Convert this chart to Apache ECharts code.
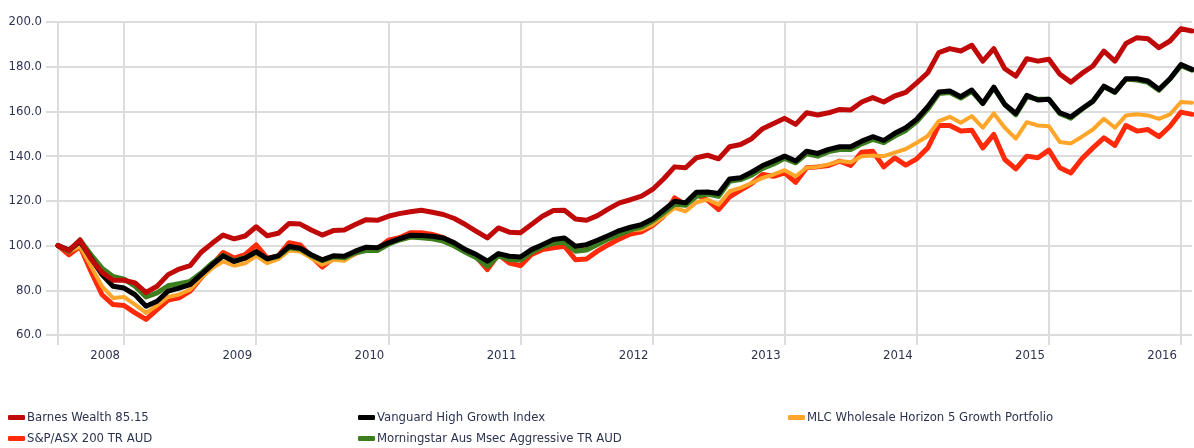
<!DOCTYPE html>
<html>
<head>
<meta charset="utf-8">
<script src="https://cdn.jsdelivr.net/npm/echarts@6/dist/echarts.min.js"></script>
<style>
  html, body { margin: 0; padding: 0; background: #fff; }
  #chart { width: 1194px; height: 448px; }
</style>
</head>
<body>
<div id="chart"></div>
<script>
// monthly points, Jul 2007 .. Feb 2016
var months = [
    '2007-07', '2007-08', '2007-09', '2007-10', '2007-11', '2007-12',
    '2008-01', '2008-02', '2008-03', '2008-04', '2008-05', '2008-06', '2008-07', '2008-08', '2008-09', '2008-10', '2008-11', '2008-12',
    '2009-01', '2009-02', '2009-03', '2009-04', '2009-05', '2009-06', '2009-07', '2009-08', '2009-09', '2009-10', '2009-11', '2009-12',
    '2010-01', '2010-02', '2010-03', '2010-04', '2010-05', '2010-06', '2010-07', '2010-08', '2010-09', '2010-10', '2010-11', '2010-12',
    '2011-01', '2011-02', '2011-03', '2011-04', '2011-05', '2011-06', '2011-07', '2011-08', '2011-09', '2011-10', '2011-11', '2011-12',
    '2012-01', '2012-02', '2012-03', '2012-04', '2012-05', '2012-06', '2012-07', '2012-08', '2012-09', '2012-10', '2012-11', '2012-12',
    '2013-01', '2013-02', '2013-03', '2013-04', '2013-05', '2013-06', '2013-07', '2013-08', '2013-09', '2013-10', '2013-11', '2013-12',
    '2014-01', '2014-02', '2014-03', '2014-04', '2014-05', '2014-06', '2014-07', '2014-08', '2014-09', '2014-10', '2014-11', '2014-12',
    '2015-01', '2015-02', '2015-03', '2015-04', '2015-05', '2015-06', '2015-07', '2015-08', '2015-09', '2015-10', '2015-11', '2015-12',
    '2016-01', '2016-02'
];

var barnes = [
    100, 97.8, 102.5, 94, 88, 84.5,
    84.5, 83.3, 79, 81.8, 87, 89.5, 91, 97, 101, 104.7, 103, 104.3,
    108.4, 104.4, 105.5, 109.9, 109.6, 107, 104.7, 106.7, 107, 109.4, 111.6, 111.3,
    113.1, 114.3, 115.1, 115.8, 114.9, 113.9, 112.1, 109.4, 106.4, 103.4, 107.9, 106,
    105.7, 109.4, 113.1, 115.7, 115.8, 111.9, 111.3, 113.4, 116.4, 119.1, 120.5, 122.1,
    125.1, 129.8, 135.2, 134.8, 139.3, 140.4, 138.8, 144.2, 145.2, 147.8, 152.3, 154.6,
    156.9, 154.2, 159.4, 158.4, 159.4, 160.9, 160.6, 164.2, 166.2, 164.2, 166.9, 168.5,
    172.8, 177.3, 186.3, 188.1, 187, 189.6, 182.5, 188.1, 179.1, 175.8, 183.6, 182.5,
    183.3, 176.6, 173.1, 177, 180.3, 187, 182.5, 190.4, 193, 192.5, 188.5, 191.5,
    197, 196
];

var vanguard = [
    100, 98, 101.8, 94.4, 87, 81.8,
    81, 78, 72.9, 75.1, 79.6, 81, 82.5, 87, 91.4, 95.4, 92.9, 94.4,
    97.3, 94.1, 95.4, 99.6, 98.8, 95.9, 93.6, 95.4, 95.2, 97.5, 99.3, 99,
    101.2, 103, 104.6, 104.5, 104.2, 103.4, 101.2, 98.2, 96, 93, 96.4, 95.2,
    94.9, 98.2, 100.4, 102.7, 103.4, 99.7, 100.4, 102.4, 104.5, 106.7, 108.2, 109.4,
    111.9, 115.8, 119.8, 119.1, 123.9, 124, 123.3, 129.8, 130.3, 132.8, 135.8, 137.8,
    140, 137.8, 142.2, 141.2, 143, 144.2, 144.2, 146.7, 148.7, 147, 150.2, 152.7,
    156.5, 162.1, 168.7, 169.1, 166.6, 169.6, 163.6, 170.9, 163.1, 159.1, 167.2, 165.1,
    165.4, 159.4, 157.6, 161.2, 164.6, 171.3, 168.7, 174.6, 174.6, 173.6, 169.9, 174.6,
    181, 178.8
];

var mlc = [
    100, 97.3, 99.6, 90.7, 81.8, 76.6,
    77, 73.6, 69.9, 73.2, 77, 78.1, 80.3, 85.5, 89.9, 92.9, 91, 92.1,
    95.4, 92.1, 93.9, 97.8, 97.3, 94.4, 91.4, 93.6, 93.2, 96.5, 98, 98,
    100.5, 102.5, 103.8, 103.8, 103.5, 102.7, 100.5, 97.5, 95, 91.5, 95.5, 94.5,
    94, 97.5, 99.5, 101.5, 102, 98.5, 99.2, 101, 103, 105.2, 106.8, 107.2,
    109.4, 113.1, 116.8, 115.3, 119.4, 120.6, 118.3, 124.3, 125.8, 128, 130.3, 131.8,
    133.7, 131, 134.8, 135.2, 136.3, 137.8, 137.3, 140, 140.3, 140, 141.6, 143.2,
    146, 149, 155.7, 157.6, 154.9, 157.9, 152.7, 159.1, 152.7, 147.8, 155.2, 153.7,
    153.4, 146.3, 145.7, 148.7, 151.9, 156.7, 152.7, 158.2, 158.7, 158.2, 156.7, 158.7,
    164.2, 163.9
];

var asx200 = [
    100, 95.9, 99.6, 88.4, 78, 73.6,
    73.2, 69.9, 67, 71.4, 75.6, 76.6, 79.6, 85.5, 91.4, 96.9, 94.4, 95.9,
    100.3, 94.4, 95.4, 101.3, 100.3, 95.1, 90.4, 94.4, 94, 96.5, 98.5, 98.5,
    102.4, 103.5, 105.7, 105.7, 105, 103.5, 101, 97.8, 95, 89.3, 96, 92.2,
    91, 96, 98.2, 99, 99.7, 93.7, 94, 97.5, 100.4, 103, 105.2, 106.2,
    108.9, 113.1, 121.3, 118.3, 122.8, 120.3, 116.1, 121.8, 124.8, 127.7, 131.8, 131,
    132.5, 128.3, 134.8, 135.2, 135.8, 137.8, 135.8, 141.8, 142.2, 135.2, 139.2, 136,
    138.8, 143.7, 153.7, 153.7, 151.2, 151.6, 143.7, 149.7, 138.5, 134.3, 140, 139.3,
    142.7, 134.8, 132.5, 138.8, 143.7, 148.2, 144.8, 153.7, 151.2, 151.9, 148.7, 153.4,
    159.7, 158.7
];

var morningstar = [
    100, 97.5, 102.5, 95.9, 89.9, 86.2,
    85, 81.8, 77, 78.8, 82, 83, 84, 87.7, 92.1, 95.6, 93.2, 94.6,
    97, 94, 95.2, 99, 98.5, 95.5, 93.3, 95, 94.5, 96.8, 97.8, 97.8,
    100.6, 102.5, 103.8, 103.5, 103, 102, 99.8, 97, 94.5, 90.7, 95.5, 93.7,
    93.5, 97, 99.5, 101, 101.5, 97.5, 98, 100.5, 103, 105, 107, 108.3,
    111, 114.5, 118.5, 118, 122, 123, 122, 128.8, 129.5, 131.5, 134.5, 136.5,
    139, 137, 141, 140, 142, 143, 143, 145.5, 147.5, 146, 149, 151.5,
    155.5, 161, 168, 168.5, 166, 169, 163.5, 170.5, 163, 158.5, 166.5, 165.5,
    165.5, 159, 157, 161, 164.5, 171, 168.5, 174.5, 174, 173, 169.5, 174.5,
    180.5, 178.5
];

var seriesNames = [
    'Barnes Wealth 85.15',
    'Vanguard High Growth Index',
    'MLC Wholesale Horizon 5 Growth Portfolio',
    'S&P/ASX 200 TR AUD',
    'Morningstar Aus Msec Aggressive TR AUD'
];

var font = "'Liberation Sans Narrow', 'DejaVu Sans Condensed', 'Roboto Condensed', sans-serif";
var textColor = '#2c3350';
var gridColor = '#dcdcdc';

function isYearStart(index) {
    return months[index].slice(5) === '01';
}

function makeLine(name, values, color, width) {
    return {
        name: name,
        type: 'line',
        data: values,
        symbol: 'none',
        smooth: false,
        lineStyle: { color: color, width: width, join: 'round', cap: 'round' },
        itemStyle: { color: color }
    };
}

function makeLegend(name, left, top) {
    return {
        data: [name],
        left: left,
        top: top,
        orient: 'horizontal',
        itemWidth: 17,
        itemHeight: 5,
        icon: 'roundRect',
        padding: 0,
        textStyle: { color: textColor, fontSize: 13, fontFamily: font, padding: [0, 0, 0, -3] }
    };
}

var chart = echarts.init(document.getElementById('chart'));
var options = {
    animation: false,
    grid: {
        left: 58,
        right: 2,
        top: 22,
        bottom: 113,
        containLabel: false
    },
    legend: [
        makeLegend(seriesNames[0], 8, 411),
        makeLegend(seriesNames[1], 358, 411),
        makeLegend(seriesNames[2], 788, 411),
        makeLegend(seriesNames[3], 8, 432),
        makeLegend(seriesNames[4], 358, 432)
    ],
    xAxis: [{
        type: 'category',
        boundaryGap: false,
        data: months,
        axisLine: { show: false },
        axisTick: {
            show: true,
            length: 10,
            interval: function (index) { return index === 0 || isYearStart(index); },
            lineStyle: { color: gridColor, width: 2 }
        },
        splitLine: {
            show: true,
            interval: function (index) { return index === 0 || isYearStart(index); },
            lineStyle: { color: gridColor, width: 2 }
        },
        axisLabel: {
            interval: function (index) { return isYearStart(index); },
            formatter: function (value) { return value.slice(0, 4); },
            align: 'right',
            padding: [0, 4, 0, 0],
            margin: 14,
            color: textColor,
            fontSize: 13,
            fontFamily: font
        }
    }],
    yAxis: [{
        type: 'value',
        min: 60,
        max: 200,
        interval: 20,
        axisLine: { show: false },
        axisTick: { show: true, length: 12, lineStyle: { color: gridColor, width: 2 } },
        splitLine: { show: true, lineStyle: { color: gridColor, width: 2 } },
        axisLabel: {
            formatter: function (v) { return v.toFixed(1); },
            margin: 16,
            color: textColor,
            fontSize: 13,
            fontFamily: font
        }
    }],
    series: [
        makeLine(seriesNames[3], asx200, '#ff2a0a', 5),
        makeLine(seriesNames[2], mlc, '#ffa52a', 4),
        makeLine(seriesNames[4], morningstar, '#3d7f1f', 5),
        makeLine(seriesNames[1], vanguard, '#000000', 5),
        makeLine(seriesNames[0], barnes, '#c00a0a', 5)
    ]
};
chart.setOption(options);
window.onresize = function () {
    chart.resize();
};
</script>
</body>
</html>
